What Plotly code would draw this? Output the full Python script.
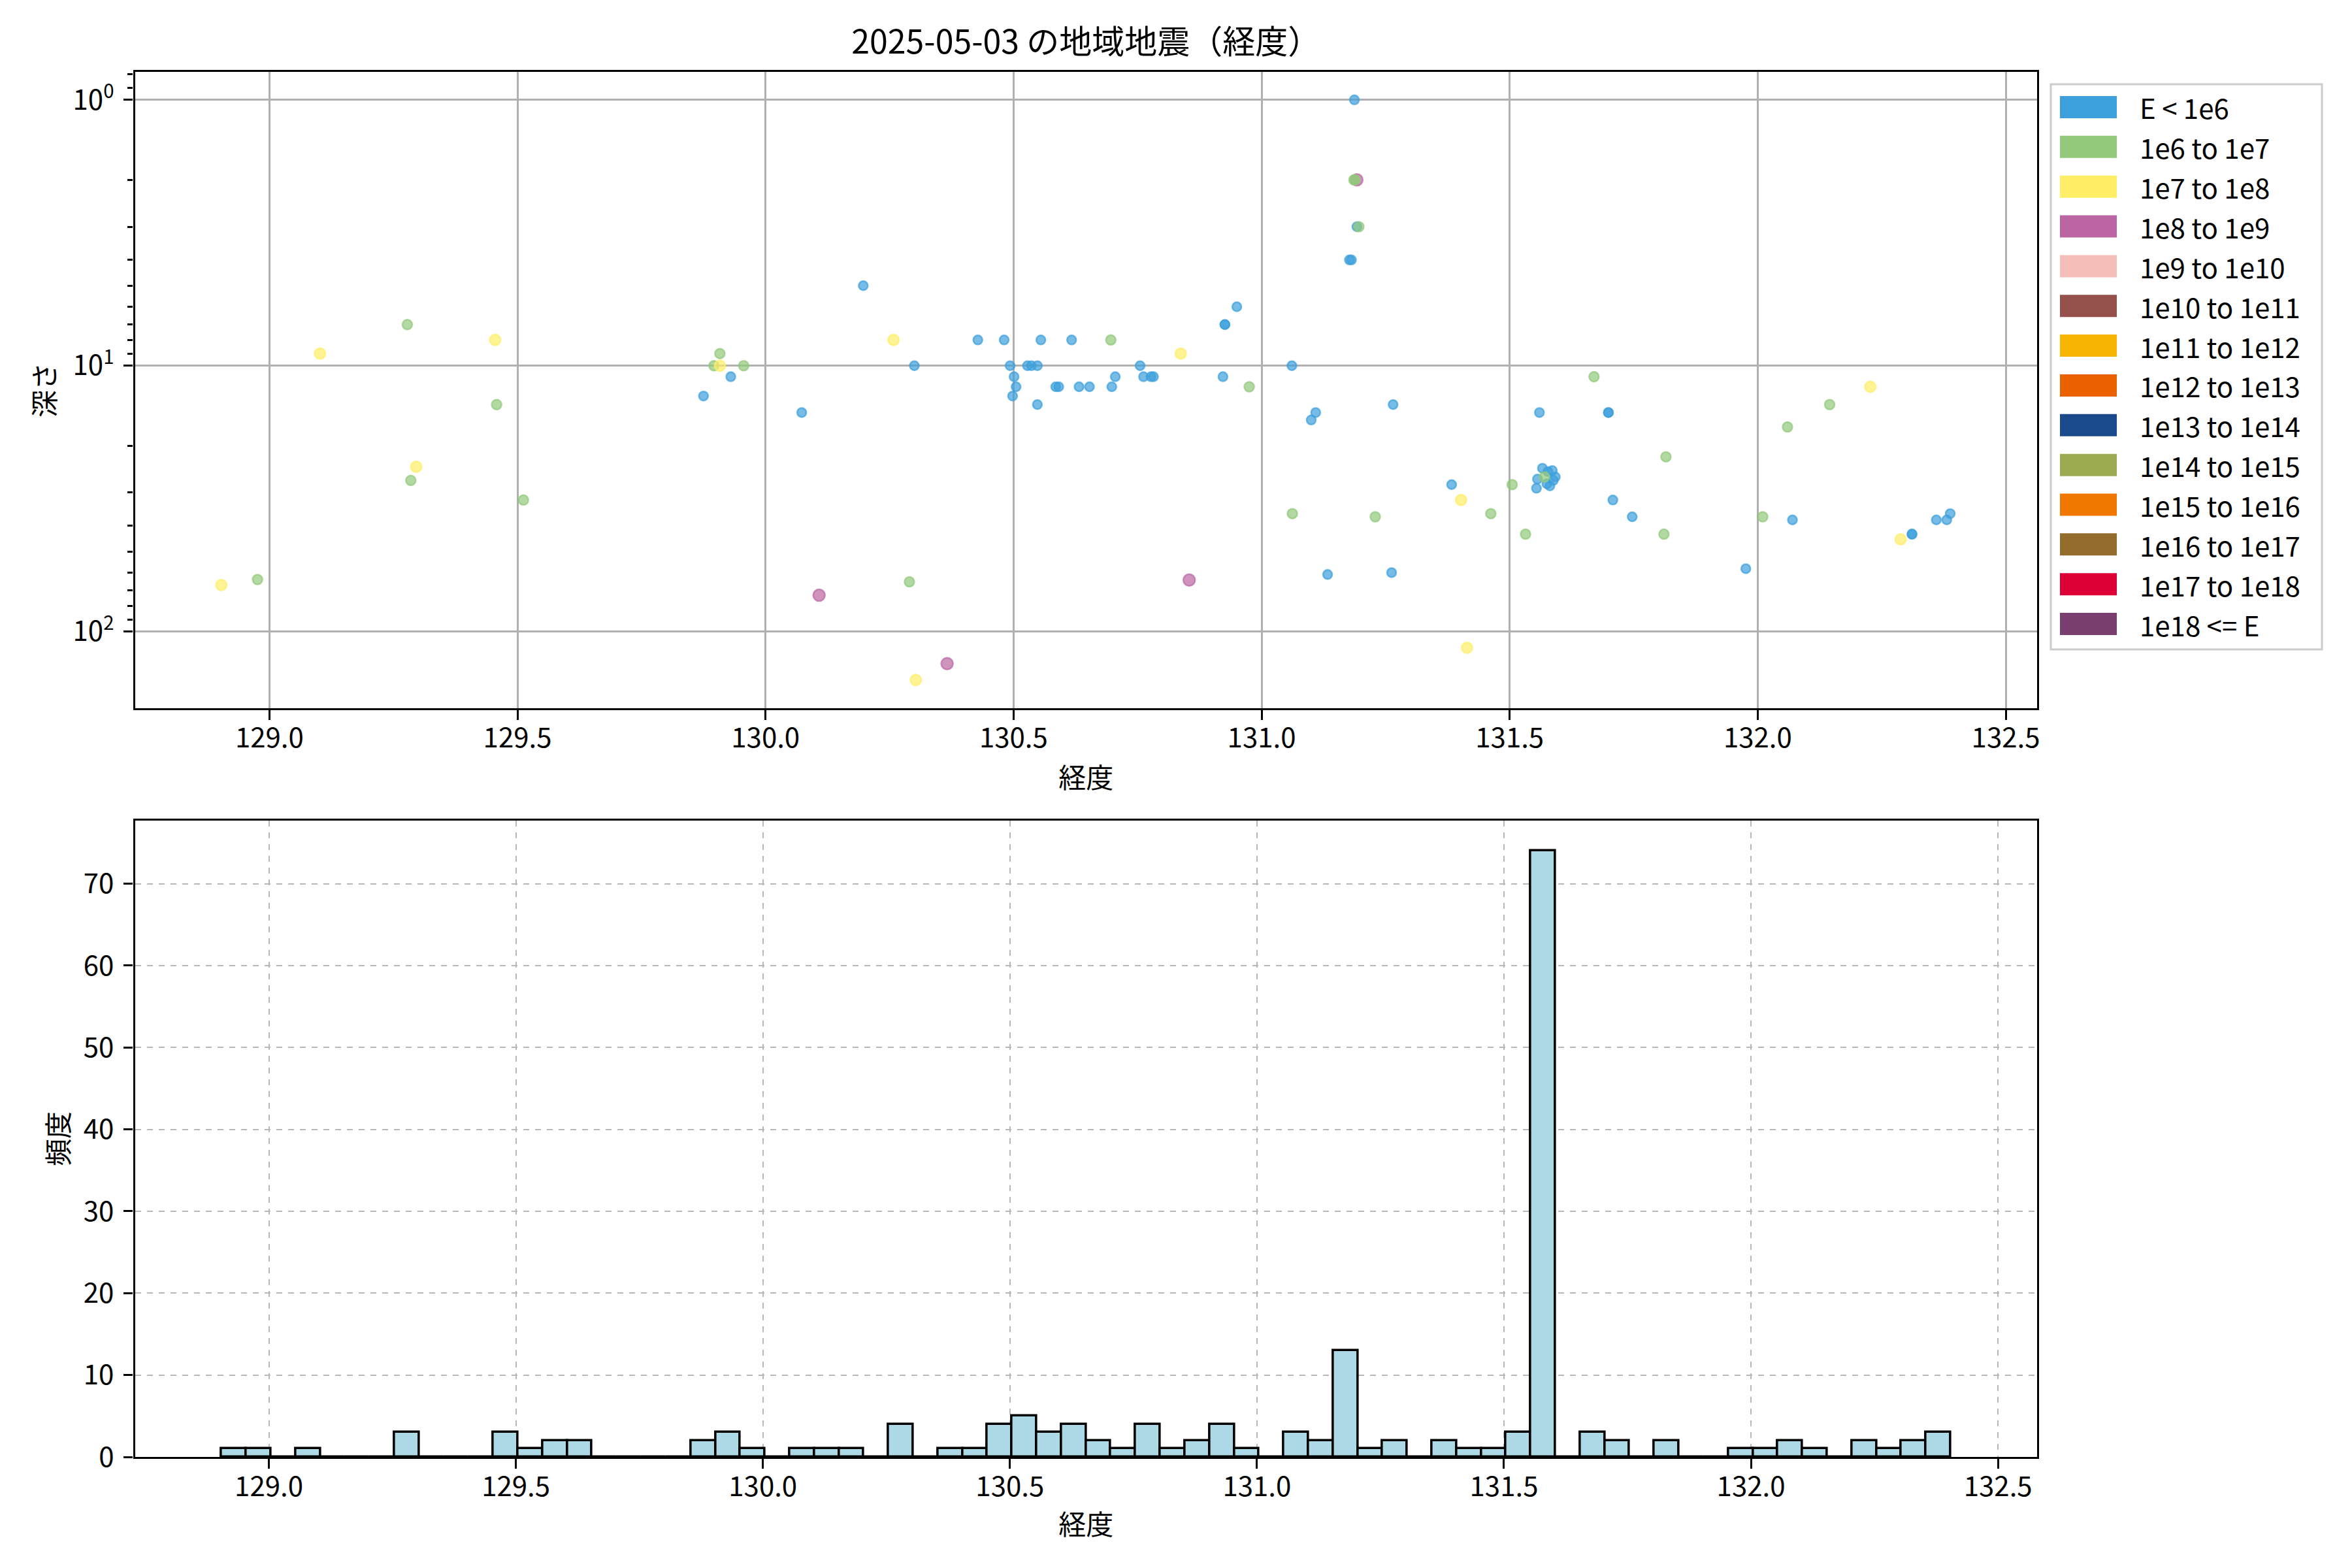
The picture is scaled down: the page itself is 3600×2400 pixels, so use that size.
import numpy as np
import plotly.graph_objects as go

# ---------------- data ----------------
TITLE = "2025-05-03 の地域地震（経度）"
X_LABEL = "経度"
Y_LABEL_TOP = "深さ"
Y_LABEL_BOTTOM = "頻度"

legend_labels = ["E < 1e6", "1e6 to 1e7", "1e7 to 1e8", "1e8 to 1e9", "1e9 to 1e10",
                 "1e10 to 1e11", "1e11 to 1e12", "1e12 to 1e13", "1e13 to 1e14",
                 "1e14 to 1e15", "1e15 to 1e16", "1e16 to 1e17", "1e17 to 1e18", "1e18 <= E"]
legend_colors = ["#3CA0DC", "#92C97A", "#FFEE66", "#BB66A3", "#F5BEB9", "#96504B", "#F7B400",
                 "#EB6100", "#1B4A8C", "#9BAA50", "#F07800", "#946C2C", "#DC0037", "#7A3F6E"]

# class E < 1e6
blue_lon = [129.875, 129.930, 130.073, 130.197, 130.300, 130.428, 130.481, 130.493, 130.498,
            130.501, 130.505, 130.528, 130.536, 130.548, 130.548, 130.555, 130.585, 130.591,
            130.617, 130.632, 130.653, 130.698, 130.705, 130.755, 130.762, 130.777, 130.782,
            130.922, 130.926, 130.926, 130.950, 131.061, 131.100, 131.109, 131.133, 131.177,
            131.181, 131.187, 131.192, 131.262, 131.265, 131.383, 131.554, 131.556, 131.560,
            131.566, 131.575, 131.577, 131.581, 131.586, 131.588, 131.592, 131.699, 131.699,
            131.708, 131.747, 131.976, 132.070, 132.311, 132.311, 132.360, 132.381, 132.388]
blue_depth = [13, 11, 15, 5.0, 10, 8, 8, 10, 13,
              11, 12, 10, 10, 10, 14, 8, 12, 12,
              8, 12, 12, 12, 11, 10, 11, 11, 11,
              11, 7.0, 7.0, 6.0, 10, 16, 15, 61, 4.0,
              4.0, 1.0, 3.0, 60, 14, 28, 28.9, 26.7, 15,
              24.3, 27.8, 25.0, 28.3, 24.8, 27.0, 26.2, 15, 15,
              32, 37, 58, 38, 43, 43, 38, 38, 36]

# class 1e6 to 1e7
green_lon = [128.976, 129.278, 129.285, 129.458, 129.512, 129.896, 129.908, 129.956, 130.290,
             130.696, 130.975, 131.062, 131.186, 131.188, 131.196, 131.229, 131.462, 131.505,
             131.532, 131.570, 131.670, 131.811, 131.815, 132.010, 132.060, 132.145]
green_depth = [63.7, 7.0, 27, 14, 32, 10, 9.0, 10, 65,
               8.0, 12, 36, 2.0, 2.0, 3.0, 37, 36, 28,
               43, 26.2, 11, 43, 22, 37, 17, 14]

# class 1e7 to 1e8
yellow_lon = [128.903, 129.102, 129.296, 129.455, 129.908, 130.258, 130.303, 130.837,
              131.402, 131.414, 132.227, 132.288]
yellow_depth = [66.8, 9.0, 24, 8.0, 10, 8.0, 152, 9.0, 32, 115, 12, 45]

# class 1e8 to 1e9
purple_lon = [130.108, 130.366, 130.854, 131.192]
purple_depth = [73, 132, 64, 2.0]

# histogram of longitudes (70 bins, width 0.05)
hist_first_edge = 128.904
hist_last_edge = 132.404
hist_counts = [1, 1, 0, 1, 0, 0, 0, 3, 0, 0,
               0, 3, 1, 2, 2, 0, 0, 0, 0, 2,
               3, 1, 0, 1, 1, 1, 0, 4, 0, 1,
               1, 4, 5, 3, 4, 2, 1, 4, 1, 2,
               4, 1, 0, 3, 2, 13, 1, 2, 0, 2,
               1, 1, 3, 74, 0, 3, 2, 0, 2, 0,
               0, 1, 1, 2, 1, 0, 2, 1, 2, 3]

# ---------------- layout helpers ----------------
PAGE_OFF = 8                      # browser default body margin
FIG_W, FIG_H = 3600 - 2 * PAGE_OFF, 2400 - 2 * PAGE_OFF
FONT = "Noto Sans CJK JP"
TICK_FS = 42
LW = 3.3


def fx(px):
    return (px - PAGE_OFF) / FIG_W


def fy(py):
    return 1 - (py - PAGE_OFF) / FIG_H


def rgba(hex_color, a):
    h = hex_color.lstrip("#")
    r, g, b = int(h[0:2], 16), int(h[2:4], 16), int(h[4:6], 16)
    return f"rgba({r},{g},{b},{a})"


x_domain = [fx(206.6), fx(3117.9)]
top_domain = [fy(1084.3), fy(109.6)]
bot_domain = [fy(2230), fy(1256)]

fig = go.Figure()

# scatter traces: draw order purple, blue, green, yellow
scatter_sets = [
    (purple_lon, purple_depth, 3, 18.0),
    (blue_lon, blue_depth, 0, 14.0),
    (green_lon, green_depth, 1, 15.0),
    (yellow_lon, yellow_depth, 2, 16.5),
]
for lon, dep, ci, sz in scatter_sets:
    assert len(lon) == len(dep)
    col = legend_colors[ci]
    fig.add_trace(go.Scatter(
        x=lon, y=dep, mode="markers", name=legend_labels[ci], showlegend=False,
        marker=dict(size=sz, color=rgba(col, 0.7), line=dict(color=rgba(col, 0.7), width=2.5)),
        xaxis="x", yaxis="y",
    ))

# histogram bars
edges = np.linspace(hist_first_edge, hist_last_edge, len(hist_counts) + 1)
centers = (edges[:-1] + edges[1:]) / 2
widths = np.diff(edges)
fig.add_trace(go.Bar(
    x=centers, y=hist_counts, width=widths, showlegend=False,
    marker=dict(color="#ADD8E6", line=dict(color="black", width=3.5)),
    xaxis="x2", yaxis="y2",
))

common_axis = dict(
    showline=True, linecolor="black", linewidth=LW, mirror=True,
    ticks="outside", ticklen=14.6, tickwidth=LW, tickcolor="black",
    tickfont=dict(size=TICK_FS, color="black", family=FONT),
    zeroline=False,
)

minor_vals = [0.8, 0.9] + [v * 1.0 for v in range(2, 10)] + [v * 10.0 for v in range(2, 10)]

fig.update_layout(
    width=FIG_W, height=FIG_H,
    margin=dict(l=0, r=0, t=0, b=0, autoexpand=False),
    paper_bgcolor="white", plot_bgcolor="white",
    font=dict(family=FONT, size=TICK_FS, color="black"),
    bargap=0,
    title=dict(text=TITLE, x=(x_domain[0] + x_domain[1]) / 2, xanchor="center",
               y=fy(64), yanchor="middle", yref="container",
               font=dict(size=50, family=FONT, color="black")),
    xaxis=dict(domain=x_domain, anchor="y", range=[128.729, 132.563],
               tick0=129.0, dtick=0.5, tickformat=".1f", ticklabelstandoff=-8,
               showgrid=True, gridcolor="#b0b0b0", gridwidth=LW,
               title=dict(text=X_LABEL, standoff=22, font=dict(size=TICK_FS, family=FONT)),
               **common_axis),
    yaxis=dict(domain=top_domain, anchor="x", type="log",
               range=[np.log10(194.5), np.log10(0.783)], ticklabelstandoff=6,
               tickvals=[1, 10, 100], ticktext=["10<sup>0</sup>", "10<sup>1</sup>", "10<sup>2</sup>"],
               showgrid=True, gridcolor="#b0b0b0", gridwidth=LW,
               minor=dict(tickvals=minor_vals, ticks="outside", ticklen=8.3, tickwidth=2.5,
                          tickcolor="black", showgrid=False),
               title=dict(text=Y_LABEL_TOP, standoff=14, font=dict(size=TICK_FS, family=FONT)),
               **common_axis),
    xaxis2=dict(domain=x_domain, anchor="y2", range=[128.729, 132.579],
                tick0=129.0, dtick=0.5, tickformat=".1f", ticklabelstandoff=-8,
                showgrid=True, gridcolor="#b8b8b8", gridwidth=2, griddash="dash",
                title=dict(text=X_LABEL, standoff=19, font=dict(size=TICK_FS, family=FONT)),
                **common_axis),
    yaxis2=dict(domain=bot_domain, anchor="x2", range=[0, 77.7], ticklabelstandoff=6,
                tick0=0, dtick=10,
                showgrid=True, gridcolor="#b8b8b8", gridwidth=2, griddash="dash",
                title=dict(text=Y_LABEL_BOTTOM, standoff=10, font=dict(size=TICK_FS, family=FONT)),
                **common_axis),
)

# manual legend (patches + labels), matplotlib-style
LEG_LEFT, LEG_RIGHT, LEG_TOP, LEG_BOTTOM = 3139, 3554, 129, 994
ENTRY_Y0, ENTRY_STEP = 164, 60.85
PATCH_X0, PATCH_X1, PATCH_H = 3153, 3240, 34
TEXT_X = 3273

fig.add_shape(type="rect", xref="paper", yref="paper",
              x0=fx(LEG_LEFT), x1=fx(LEG_RIGHT), y0=fy(LEG_BOTTOM), y1=fy(LEG_TOP),
              line=dict(color="#cccccc", width=3), fillcolor="rgba(255,255,255,0.8)", layer="above")
for i, (lab, col) in enumerate(zip(legend_labels, legend_colors)):
    cy = ENTRY_Y0 + i * ENTRY_STEP
    fig.add_shape(type="rect", xref="paper", yref="paper",
                  x0=fx(PATCH_X0), x1=fx(PATCH_X1),
                  y0=fy(cy + PATCH_H / 2), y1=fy(cy - PATCH_H / 2),
                  line=dict(width=0), fillcolor=col, layer="above")
    fig.add_annotation(text=lab, xref="paper", yref="paper", x=fx(TEXT_X), y=fy(cy),
                       xanchor="left", yanchor="middle", showarrow=False,
                       font=dict(size=TICK_FS, family=FONT, color="black"))

fig.write_html("out.html")
